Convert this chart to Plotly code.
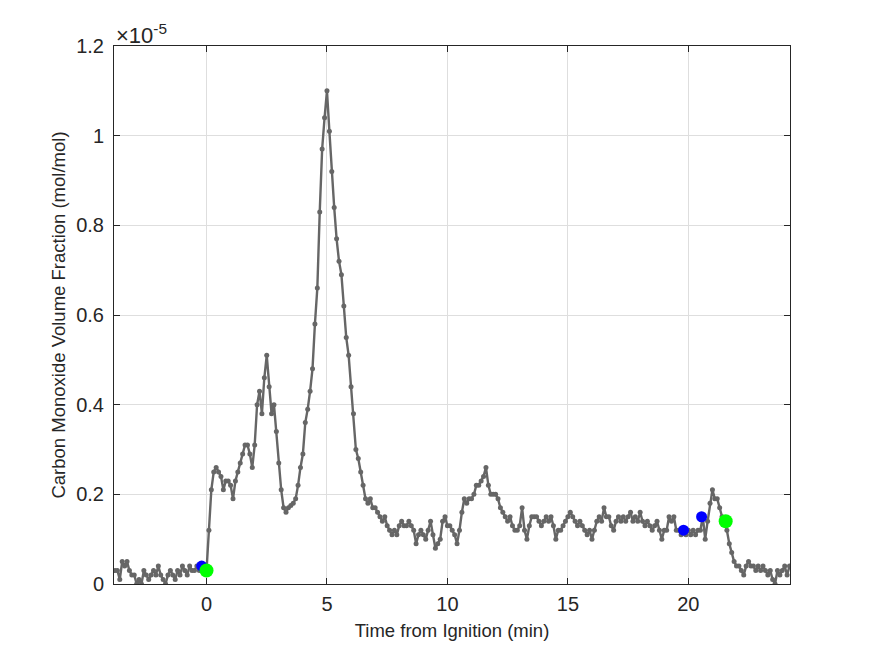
import plotly.graph_objects as go

# Time axis: samples every 0.1 min starting at -3.8 min
t_start = -3.8
t_step = 0.1

# Carbon monoxide volume fraction, in units of 1e-5 mol/mol
co_1e5 = [
    # -3.8 .. -2.9
    0.03, 0.03, 0.01, 0.05, 0.04, 0.05, 0.03, 0.02, 0.02, 0.00,
    # -2.8 .. -1.9
    0.01, 0.00, 0.03, 0.02, 0.01, 0.02, 0.03, 0.02, 0.04, 0.02,
    # -1.8 .. -0.9
    0.01, 0.00, 0.02, 0.03, 0.02, 0.01, 0.03, 0.02, 0.04, 0.03,
    # -0.8 .. 0.1
    0.02, 0.04, 0.03, 0.03, 0.04, 0.03, 0.04, 0.03, 0.03, 0.12,
    # 0.2 .. 1.1
    0.21, 0.25, 0.26, 0.25, 0.24, 0.21, 0.23, 0.23, 0.22, 0.19,
    # 1.2 .. 2.1
    0.23, 0.25, 0.27, 0.29, 0.31, 0.31, 0.29, 0.26, 0.31, 0.40,
    # 2.2 .. 3.1
    0.43, 0.38, 0.46, 0.51, 0.44, 0.38, 0.40, 0.34, 0.27, 0.21,
    # 3.2 .. 4.1
    0.17, 0.16, 0.17, 0.175, 0.18, 0.19, 0.22, 0.26, 0.29, 0.36,
    # 4.2 .. 5.1
    0.39, 0.43, 0.48, 0.58, 0.66, 0.83, 0.97, 1.04, 1.10, 1.01,
    # 5.2 .. 6.1
    0.92, 0.84, 0.77, 0.72, 0.69, 0.62, 0.55, 0.51, 0.44, 0.38,
    # 6.2 .. 7.1
    0.30, 0.28, 0.25, 0.22, 0.19, 0.18, 0.19, 0.17, 0.17, 0.16,
    # 7.2 .. 8.1
    0.15, 0.14, 0.15, 0.13, 0.12, 0.11, 0.12, 0.11, 0.13, 0.14,
    # 8.2 .. 9.1
    0.13, 0.13, 0.14, 0.13, 0.12, 0.09, 0.11, 0.12, 0.11, 0.10,
    # 9.2 .. 10.1
    0.12, 0.14, 0.11, 0.08, 0.09, 0.10, 0.14, 0.15, 0.13, 0.13,
    # 10.2 .. 11.1
    0.12, 0.11, 0.09, 0.12, 0.16, 0.19, 0.18, 0.19, 0.19, 0.20,
    # 11.2 .. 12.1
    0.22, 0.22, 0.23, 0.24, 0.26, 0.22, 0.20, 0.20, 0.20, 0.19,
    # 12.2 .. 13.1
    0.17, 0.16, 0.15, 0.14, 0.15, 0.13, 0.12, 0.12, 0.13, 0.17,
    # 13.2 .. 14.1
    0.12, 0.10, 0.13, 0.15, 0.15, 0.15, 0.14, 0.13, 0.14, 0.15,
    # 14.2 .. 15.1
    0.14, 0.15, 0.13, 0.10, 0.12, 0.12, 0.13, 0.14, 0.15, 0.16,
    # 15.2 .. 16.1
    0.15, 0.14, 0.13, 0.14, 0.13, 0.12, 0.11, 0.12, 0.10, 0.12,
    # 16.2 .. 17.1
    0.14, 0.15, 0.14, 0.17, 0.15, 0.15, 0.13, 0.12, 0.14, 0.15,
    # 17.2 .. 18.1
    0.14, 0.15, 0.14, 0.15, 0.16, 0.14, 0.15, 0.14, 0.16, 0.14,
    # 18.2 .. 19.1
    0.13, 0.14, 0.13, 0.12, 0.13, 0.14, 0.12, 0.10, 0.12, 0.12,
    # 19.2 .. 20.1
    0.15, 0.14, 0.15, 0.12, 0.12, 0.11, 0.12, 0.11, 0.12, 0.11,
    # 20.2 .. 21.1
    0.12, 0.11, 0.12, 0.12, 0.15, 0.10, 0.14, 0.18, 0.21, 0.19,
    # 21.2 .. 22.1
    0.19, 0.17, 0.15, 0.14, 0.12, 0.09, 0.07, 0.05, 0.04, 0.04,
    # 22.2 .. 23.1
    0.03, 0.02, 0.04, 0.05, 0.04, 0.04, 0.03, 0.04, 0.03, 0.04,
    # 23.2 .. 24.2
    0.03, 0.02, 0.03, 0.01, 0.00, 0.03, 0.02, 0.03, 0.04, 0.02, 0.04,
]

# Highlighted events
blue_t = [-0.2, 19.8, 20.55]
blue_v = [0.04, 0.12, 0.15]
green_t = [0.0, 21.55]
green_v = [0.03, 0.14]

x_ticks = [0, 5, 10, 15, 20]
y_ticks = [0, 0.2, 0.4, 0.6, 0.8, 1.0, 1.2]
y_tick_text = ["0", "0.2", "0.4", "0.6", "0.8", "1", "1.2"]

FONT = "Liberation Sans, Arial, Helvetica, sans-serif"
AX = "#262626"

fig = go.Figure()
fig.add_trace(go.Scatter(
    y=co_1e5, x0=t_start, dx=t_step, mode="lines+markers",
    line=dict(color="#666666", width=2.4),
    marker=dict(color="#666666", size=5),
    showlegend=False, hoverinfo="skip",
))
fig.add_trace(go.Scatter(
    x=blue_t, y=blue_v, mode="markers",
    marker=dict(color="#0000ff", size=11),
    showlegend=False,
))
fig.add_trace(go.Scatter(
    x=green_t, y=green_v, mode="markers",
    marker=dict(color="#00ff00", size=14),
    showlegend=False,
))

fig.update_layout(
    width=875, height=656,
    margin=dict(l=114, r=85, t=46, b=72),
    paper_bgcolor="white", plot_bgcolor="white",
    font=dict(family=FONT, color=AX, size=20),
    xaxis=dict(
        range=[-3.84, 24.22], tickvals=x_ticks,
        showgrid=True, gridcolor="#dedede", gridwidth=1,
        zeroline=False, showline=True, linecolor=AX, linewidth=1,
        mirror="ticks", ticks="inside", ticklen=6, tickcolor=AX,
        tickfont=dict(size=20, color=AX), ticklabelstandoff=2,
        title=dict(text="Time from Ignition (min)", font=dict(size=18.5, color=AX), standoff=10),
    ),
    yaxis=dict(
        range=[0, 1.2], tickvals=y_ticks, ticktext=y_tick_text,
        showgrid=True, gridcolor="#dedede", gridwidth=1,
        zeroline=False, showline=True, linecolor=AX, linewidth=1,
        mirror="ticks", ticks="inside", ticklen=6, tickcolor=AX,
        tickfont=dict(size=20, color=AX), ticklabelstandoff=5,
        title=dict(text="Carbon Monoxide Volume Fraction (mol/mol)", font=dict(size=18.5, color=AX), standoff=5),
    ),
    annotations=[dict(
        x=0, y=1, xref="paper", yref="paper", xanchor="left", yanchor="bottom",
        text="×10<sup>-5</sup>", showarrow=False, yshift=-4,
        font=dict(size=22, color=AX, family=FONT),
    )],
)

fig.write_html("out.html")
